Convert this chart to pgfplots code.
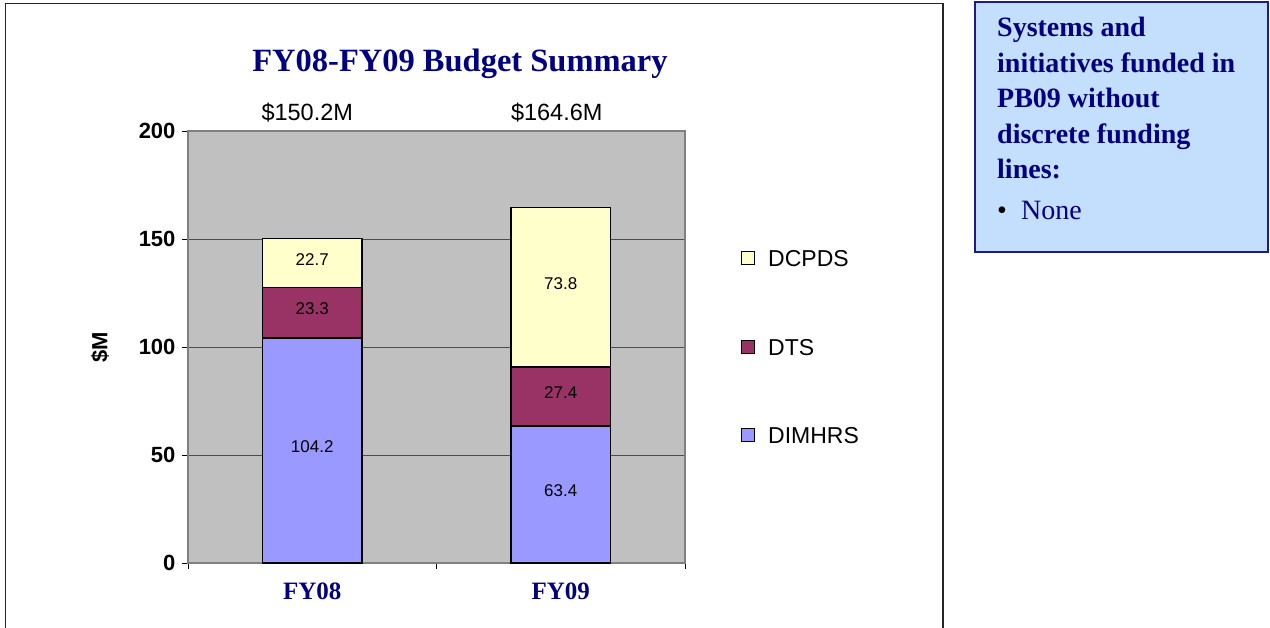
\documentclass[border=0pt]{standalone}
\usepackage{pgfplots}
\pgfplotsset{compat=1.18}
\usepackage{pgfplotstable}
\usepackage{fontspec}
\setmainfont{Liberation Sans}
\newfontfamily\serif{Liberation Serif}
\definecolor{dimhrs}{HTML}{9999FF}
\definecolor{dts}{HTML}{993366}
\definecolor{dcpds}{HTML}{FFFFCC}
\definecolor{plotbg}{HTML}{C0C0C0}
\definecolor{navy}{HTML}{000080}
\definecolor{boxfill}{HTML}{C4DEFE}
\definecolor{boxdraw}{HTML}{1C1C8C}
\definecolor{framegray}{HTML}{808080}

\pgfplotstableread{
x v
0 104.2
1 63.4
}\dimhrsdata
\pgfplotstableread{
x v
0 23.3
1 27.4
}\dtsdata
\pgfplotstableread{
x v
0 22.7
1 73.8
}\dcpdsdata

\begin{document}
\begin{tikzpicture}[x=1pt,y=1pt]
\useasboundingbox (0pt,0pt) rectangle (1270pt,628pt);
% outer chart frame
\draw[line width=1.6pt, black!85] (5.5pt,-20pt) -- (5.5pt,624.5pt) -- (943pt,624.5pt) -- (943pt,-20pt);
% right text box
\draw[line width=2pt, boxdraw, fill=boxfill] (975pt,376pt) rectangle (1268pt,626pt);
\node[anchor=base west, align=left, inner sep=0pt, text=navy,
      font=\serif\bfseries\fontsize{28}{35.5}\selectfont] at (997pt,449pt)
  {Systems and\\ initiatives funded in\\ PB09 without\\ discrete funding\\ lines:};
\node[anchor=base west, inner sep=0pt, font=\serif\fontsize{28}{30}\selectfont] at (997pt,408pt) {\textbullet};
\node[anchor=base west, inner sep=0pt, text=navy, font=\serif\fontsize{28}{30}\selectfont] at (1021pt,408pt) {None};
% title
\node[anchor=base, inner sep=0pt, text=navy, font=\serif\bfseries\fontsize{32.5}{36}\selectfont] at (460pt,556pt) {FY08-FY09 Budget Summary};

\begin{axis}[
  at={(188pt,65pt)}, anchor=south west,
  width=497pt, height=432pt, scale only axis,
  ybar stacked, bar width=0.4,
  clip=false,
  xmin=-0.5, xmax=1.5, ymin=0, ymax=200,
  axis background/.style={fill=plotbg},
  axis line style={framegray, line width=1.3pt},
  ytick={0,50,100,150,200},
  xtick={-0.5,0.5,1.5}, xticklabels={,,},
  extra x ticks={0,1}, extra x tick labels={FY08,FY09},
  extra x tick style={major tick length=0pt},
  xtick pos=bottom, ytick pos=left,
  xticklabel style={anchor=base, yshift=-36.5pt, inner sep=0pt, text=navy,
      font=\serif\bfseries\fontsize{25}{25}\selectfont},
  tick align=outside, major tick length=6pt,
  tick style={black, line width=0.8pt},
  ymajorgrids, grid style={black!70, line width=0.8pt},
  /pgf/number format/assume math mode=true,
  yticklabel style={xshift=-3pt, font=\bfseries\fontsize{22}{22}\selectfont},
  ylabel={\$M},
  ylabel style={at={(axis description cs:-0.177,0.5)}, anchor=center,
      font=\bfseries\fontsize{22}{22}\selectfont},
  legend style={draw=none, fill=none, at={(1,0.5)}, anchor=west, xshift=56pt,
      inner sep=0pt, row sep=72pt, font=\fontsize{23}{23}\selectfont,
      nodes={inner sep=0pt, anchor=west, text height=16.5pt, text depth=0pt},
      /tikz/every odd column/.append style={column sep=13pt}},
  legend image code/.code={\draw[#1, draw=black, line width=1pt] (0pt,-6.5pt) rectangle (13pt,6.5pt);},
  reverse legend,
  legend cell align=left,
  nodes near coords,
  point meta=explicit symbolic,
  every node near coord/.append style={anchor=center, yshift=4pt,
      font=\fontsize{17}{17}\selectfont, text=black},
]
\addplot[fill=dimhrs, draw=black, line width=1.5pt] table[x=x, y=v, meta=v] {\dimhrsdata};
\addplot[fill=dts, draw=black, line width=1.5pt] table[x=x, y=v, meta=v] {\dtsdata};
\addplot[fill=dcpds, draw=black, line width=1.5pt] table[x=x, y=v, meta=v] {\dcpdsdata};
\legend{DIMHRS,DTS,DCPDS}
\node[anchor=base, xshift=-5pt, yshift=10pt, font=\fontsize{23.5}{24}\selectfont] at (axis cs:0,200) {\$150.2M};
\node[anchor=base, xshift=-4pt, yshift=10pt, font=\fontsize{23.5}{24}\selectfont] at (axis cs:1,200) {\$164.6M};
\end{axis}
\end{tikzpicture}
\end{document}
